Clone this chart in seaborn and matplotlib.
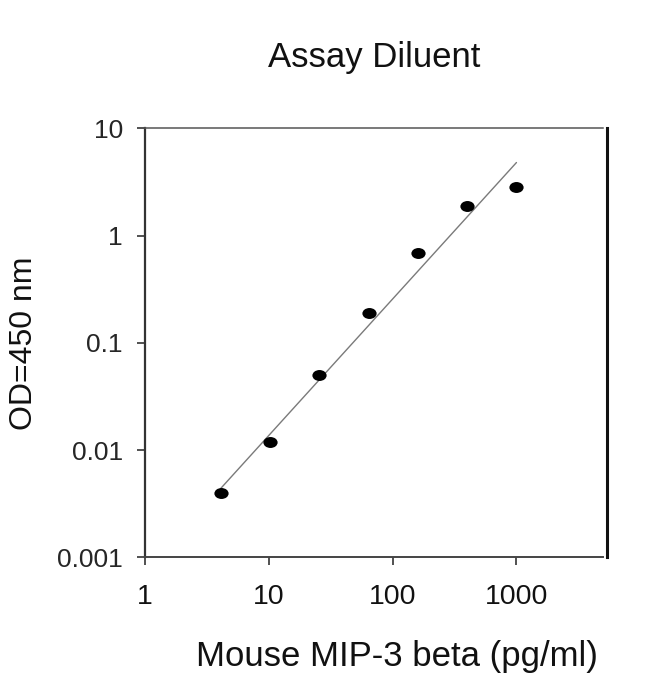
import matplotlib
matplotlib.use("Agg")
import matplotlib.pyplot as plt
import seaborn as sns
import pandas as pd
from matplotlib.path import Path
from matplotlib.transforms import Affine2D

# ---- data ----
conc = [4.096, 10.24, 25.6, 64, 160, 400, 1000]
od = [0.0040, 0.0119, 0.050, 0.19, 0.69, 1.88, 2.85]
fit_x = [4.096, 1000]
fit_y = [0.0044, 4.8]
x_ticks = [1, 10, 100, 1000]
x_tick_labels = ["1", "10", "100", "1000"]
y_ticks = [0.001, 0.01, 0.1, 1, 10]
y_tick_labels = ["0.001", "0.01", "0.1", "1", "10"]
title = "Assay Diluent"
x_label = "Mouse MIP-3 beta (pg/ml)"
y_label = "OD=450 nm"

df = pd.DataFrame({"conc": conc, "od": od})
fit = pd.DataFrame({"x": fit_x, "y": fit_y})

sns.set_theme(style="white")
plt.rcParams["font.family"] = ["Liberation Sans", "DejaVu Sans"]

fig = plt.figure(figsize=(6.5, 6.74), dpi=100)
ax = fig.add_axes([0.2231, 0.1731, 0.7046, 0.6365])

sns.lineplot(data=fit, x="x", y="y", ax=ax, color="#7a7a7a", linewidth=1.0)
oval = Path.unit_circle().transformed(Affine2D().scale(1.3, 1.0))
sns.scatterplot(data=df, x="conc", y="od", ax=ax, marker=oval, s=105,
                color="black", edgecolor="black", linewidth=0, zorder=3)

ax.set_xscale("log")
ax.set_yscale("log")
ax.set_xlim(1, 5000)
ax.set_ylim(0.001, 10)
ax.set_xticks(x_ticks)
ax.set_xticklabels(x_tick_labels)
ax.set_yticks(y_ticks)
ax.set_yticklabels(y_tick_labels)
ax.minorticks_off()

ax.tick_params(axis="x", direction="out", length=6, width=1.2, color="#333333",
               labelsize=20.5, pad=13, bottom=True, top=False)
ax.tick_params(axis="y", direction="out", length=6, width=1.2, color="#333333",
               labelsize=19, pad=10, left=True, right=False)
for lab in ax.get_xticklabels() + ax.get_yticklabels():
    lab.set_color("#111111")

ax.spines["left"].set_color("#333333")
ax.spines["left"].set_linewidth(1.6)
ax.spines["bottom"].set_color("#444444")
ax.spines["bottom"].set_linewidth(1.4)
ax.spines["top"].set_color("#555555")
ax.spines["top"].set_linewidth(1.1)
ax.spines["right"].set_color("#111111")
ax.spines["right"].set_linewidth(2.2)
ax.spines["right"].set_position(("outward", 3))

ax.set_xlabel(x_label, fontsize=25, color="#111111")
ax.set_ylabel(y_label, fontsize=23, color="#111111")
ax.xaxis.set_label_coords(0.550, -0.193)
ax.yaxis.set_label_coords(-0.232, 0.5)
ax.set_title(title, fontsize=25, color="#111111", pad=44)

fig.savefig("out.png", dpi=100, facecolor="white")
